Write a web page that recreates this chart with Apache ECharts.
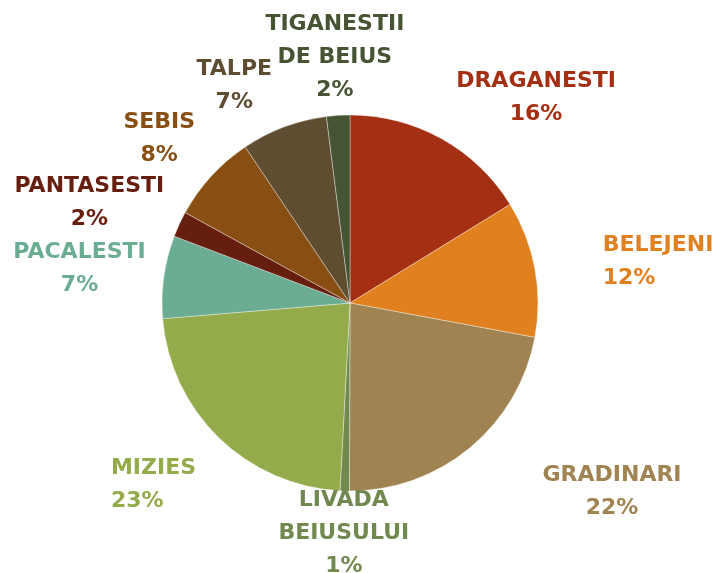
<!DOCTYPE html>
<html>
<head>
<meta charset="utf-8">
<script src="https://cdn.jsdelivr.net/npm/echarts@6/dist/echarts.min.js"></script>
<style>
  html, body { margin: 0; padding: 0; background: #ffffff; }
  #chart { width: 716px; height: 573px; }
</style>
</head>
<body>
<div id="chart"></div>
<script>
const categories = ['DRAGANESTI', 'BELEJENI', 'GRADINARI', 'LIVADA BEIUSULUI', 'MIZIES',
  'PACALESTI', 'PANTASESTI', 'SEBIS', 'TALPE', 'TIGANESTII DE BEIUS'];
const shares = [16.2, 11.7, 22.1, 0.8, 22.8, 7.1, 2.2, 7.6, 7.4, 2.0];
const colors = ['#A52F12', '#E0801E', '#A08350', '#71884F', '#94AB4B',
  '#6AAD93', '#661E0E', '#884E12', '#5E4D31', '#465434'];

// layout-only: label nudges (px) applied after outside placement, and line alignment
const labelNudge = [[54, 31], [49, 7], [88, -21], [1, -24], [-18, -2],
  [0, 4], [-2, 19], [-5, 6], [-29, 14], [1, 11]];
const labelLineAlign = ['center', 'left', 'center', 'center', 'left',
  'center', 'center', 'center', 'center', 'center'];

const CX = 350, CY = 303, R = 188, GAP = 15;
const total = shares.reduce((a, b) => a + b, 0);

const chart = echarts.init(document.getElementById('chart'), null, { renderer: 'canvas' });
chart.setOption({
  animation: false,
  backgroundColor: '#ffffff',
  series: [{
    type: 'pie',
    center: [CX, CY],
    radius: R,
    startAngle: 90,
    clockwise: true,
    data: categories.map((name, i) => ({
      name: name,
      value: shares[i],
      itemStyle: { color: colors[i] },
      label: {
        color: colors[i],
        rich: { t: { align: labelLineAlign[i], fontFamily: 'DejaVu Sans', fontWeight: 'bold', fontSize: 22, lineHeight: 33 } }
      }
    })),
    itemStyle: { borderColor: 'rgba(255,255,255,0.45)', borderWidth: 0.8 },
    emphasis: { disabled: true },
    labelLine: { show: false },
    label: {
      show: true,
      position: 'outside',
      overflow: 'none',
      fontFamily: 'DejaVu Sans',
      fontWeight: 'bold',
      fontSize: 22,
      lineHeight: 33,
      formatter: function (p) {
        let n = p.name;
        if (n.length > 12) n = n.replace(' ', '\n');
        return '{t|' + n + '\n' + Math.round(p.percent) + '%}';
      }
    },
    labelLayout: function (params) {
      const i = params.dataIndex;
      let cum = 0;
      for (let k = 0; k < i; k++) cum += shares[k];
      const mid = (cum + shares[i] / 2) / total * Math.PI * 2;
      const dx = Math.sin(mid), dy = -Math.cos(mid);
      const w = params.labelRect.width, h = params.labelRect.height;
      const d = R + GAP + Math.abs(dx) * w / 2 + Math.abs(dy) * h / 2;
      return {
        x: CX + dx * d + labelNudge[i][0],
        y: CY + dy * d + labelNudge[i][1],
        align: 'center', verticalAlign: 'middle'
      };
    }
  }]
});
</script>
</body>
</html>
